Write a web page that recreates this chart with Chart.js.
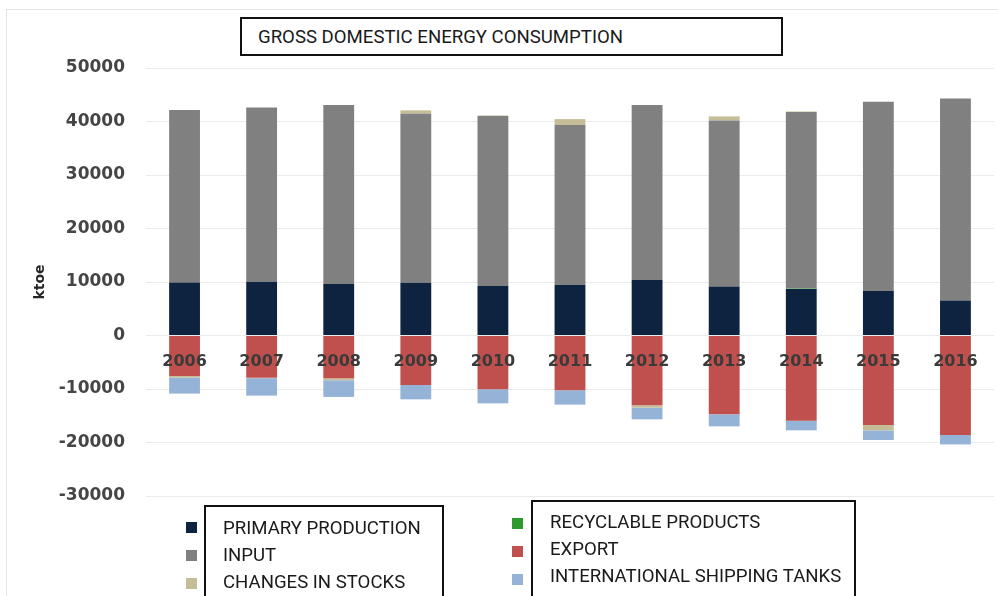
<!DOCTYPE html>
<html>
<head>
<meta charset="utf-8">
<script src="https://cdn.jsdelivr.net/npm/chart.js@4.4.1/dist/chart.umd.min.js"></script>
<style>
  body { margin: 0; background: #fff; }
  #wrap { position: relative; width: 998px; height: 596px; overflow: hidden; }
  #frame { position: absolute; left: 6px; top: 9px; width: 1000px; height: 600px; border-left: 1px solid #e4e4e4; border-top: 1px solid #e4e4e4; }
  canvas { position: absolute; left: 0; top: 0; }
  .box { position: absolute; border: 2px solid #111; background: #fff; font-family: Roboto, sans-serif; color: #1a1a1a; }
  #title { left: 240px; top: 17px; width: 523px; height: 35px; font-size: 18.6px; line-height: 36px; padding-left: 16px; box-sizing: content-box; }
  .leg { position: absolute; font-family: Roboto, sans-serif; font-size: 18.6px; color: #1a1a1a; white-space: nowrap; }
  .mk { position: absolute; width: 11px; height: 11px; }
</style>
</head>
<body>
<div id="wrap">
  <div id="frame"></div>
  <canvas id="gdecChart" width="998" height="596"></canvas>
  <div id="title" class="box">GROSS DOMESTIC ENERGY CONSUMPTION</div>
  <div id="legendArea"></div>
</div>
<script>
// Years on the X-axis
const years = ['2006', '2007', '2008', '2009', '2010', '2011', '2012', '2013', '2014', '2015', '2016'];

// Series values in ktoe
const primaryProduction = [9925, 10050, 9610, 9860, 9230, 9420, 10360, 9180, 8670, 8300, 6550];
const recyclableProducts = [0, 0, 0, 0, 0, 0, 0, 0, 100, 0, 0];
const input = [32210, 32590, 33460, 31580, 31810, 29910, 32710, 31020, 33020, 35390, 37770];
const exportValues = [-7550, -7920, -7990, -9240, -10050, -10240, -13050, -14740, -15920, -16720, -18600];
const changesInStocks = [-315, -50, -380, 640, 100, 1120, -430, 750, 100, -1010, 0];
const shippingTanks = [-2995, -3270, -3110, -2690, -2630, -2680, -2190, -2240, -1810, -1800, -1760];

// Y-axis tick labels
const yTicks = [50000, 40000, 30000, 20000, 10000, 0, -10000, -20000, -30000];

// Order matters for stacking: positives stack primary -> recyclable -> input -> changes,
// negatives stack export -> changes -> shipping
const datasets = [
    { label: 'PRIMARY PRODUCTION', data: primaryProduction, backgroundColor: '#0e2340' },
    { label: 'RECYCLABLE PRODUCTS', data: recyclableProducts, backgroundColor: '#2e9a2e' },
    { label: 'INPUT', data: input, backgroundColor: '#808080' },
    { label: 'EXPORT', data: exportValues, backgroundColor: '#c0504d' },
    { label: 'CHANGES IN STOCKS', data: changesInStocks, backgroundColor: '#c4bd97' },
    { label: 'INTERNATIONAL SHIPPING TANKS', data: shippingTanks, backgroundColor: '#95b3d7' }
];

const ctx = document.getElementById('gdecChart').getContext('2d');
const chart = new Chart(ctx, {
    type: 'bar',
    data: {
        labels: years,
        datasets: datasets.map(d => Object.assign({ borderWidth: 0, categoryPercentage: 0.8, barPercentage: 0.5 }, d))
    },
    options: {
        responsive: false,
        animation: false,
        layout: { padding: { left: 28, top: 68, right: 4, bottom: 100 } },
        scales: {
            x: {
                stacked: true,
                position: { y: 0 },
                grid: { display: false },
                border: { display: false },
                ticks: {
                    z: 1, // year labels sit on top of the bars
                    color: '#3a3a3a',
                    padding: 9,
                    maxRotation: 0,
                    font: { family: 'DejaVu Sans', size: 16, weight: 'bold' }
                }
            },
            y: {
                stacked: true,
                min: -30000,
                max: 50000,
                afterBuildTicks: axis => { axis.ticks = yTicks.map(v => ({ value: v })); },
                afterFit: axis => { axis.width = 118; },
                grid: { color: '#ebebeb', drawTicks: false },
                border: { display: false },
                ticks: {
                    color: '#454545',
                    padding: 21,
                    callback: value => String(value),
                    font: { family: 'DejaVu Sans', size: 17, weight: 'bold' }
                },
                title: {
                    display: true,
                    text: 'ktoe',
                    color: '#262626',
                    font: { family: 'DejaVu Sans', size: 14, weight: 'bold' }
                }
            }
        },
        plugins: {
            legend: { display: false },
            tooltip: { enabled: false }
        }
    }
});

// Legend: two boxed columns, markers sit just outside the boxes
function buildLegend() {
    var area = document.getElementById('legendArea');
    var cols = [
        { items: ['PRIMARY PRODUCTION', 'INPUT', 'CHANGES IN STOCKS'], mkX: 186, mkTop: 522, box: [204, 505, 236], textX: 223, textTop: 517 },
        { items: ['RECYCLABLE PRODUCTS', 'EXPORT', 'INTERNATIONAL SHIPPING TANKS'], mkX: 512, mkTop: 518, box: [531, 500, 321], textX: 550, textTop: 511 }
    ];
    cols.forEach(col => {
        var b = document.createElement('div');
        b.className = 'box';
        b.style.left = col.box[0] + 'px';
        b.style.top = col.box[1] + 'px';
        b.style.width = col.box[2] + 'px';
        b.style.height = '120px';
        area.appendChild(b);
        col.items.forEach((name, i) => {
            var ds = chart.data.datasets.find(d => d.label === name);
            var mk = document.createElement('div');
            mk.className = 'mk';
            mk.style.left = col.mkX + 'px';
            mk.style.top = (col.mkTop + i * 28) + 'px';
            mk.style.background = ds.backgroundColor;
            area.appendChild(mk);
            var t = document.createElement('div');
            t.className = 'leg';
            t.style.left = col.textX + 'px';
            t.style.top = (col.textTop + i * 27) + 'px';
            t.textContent = name;
            area.appendChild(t);
        });
    });
}
buildLegend();
</script>
</body>
</html>
